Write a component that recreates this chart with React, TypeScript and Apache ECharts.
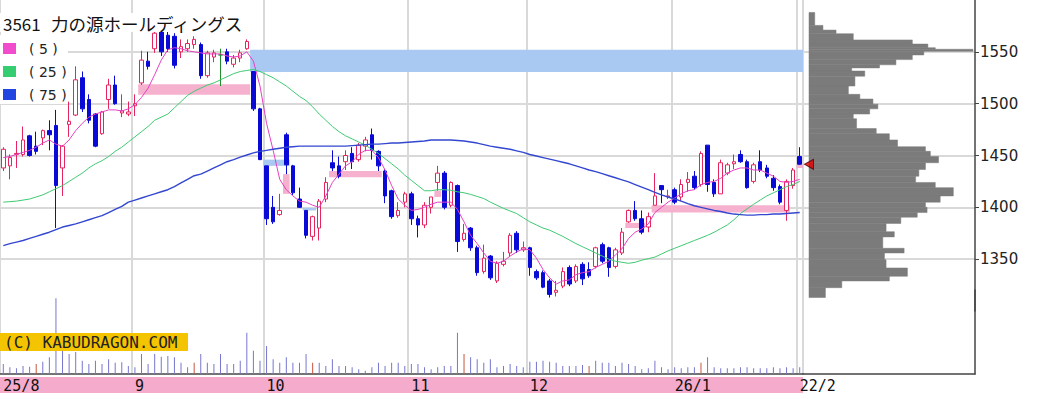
import React, { useEffect, useRef } from "react";
import * as echarts from "echarts";

// ---------- DATA ----------
const tradingDays: [string, number[]][] = [
  ["2025-08", [1, 4, 5, 6, 7, 8, 12, 13, 14, 15, 18, 19, 20, 21, 22, 25, 26, 27, 28, 29]],
  ["2025-09", [1, 2, 3, 4, 5, 8, 9, 10, 11, 12, 16, 17, 18, 19, 22, 24, 25, 26, 29, 30]],
  ["2025-10", [1, 2, 3, 6, 7, 8, 9, 10, 14, 15, 16, 17, 20, 21, 22, 23, 24, 27, 28, 29, 30, 31]],
  ["2025-11", [4, 5, 6, 7, 10, 11, 12, 13, 14, 17, 18, 19, 20, 21, 25, 26, 27, 28]],
  ["2025-12", [1, 2, 3, 4, 5, 8, 9, 10, 11, 12, 15, 16, 17, 18, 19, 22, 23, 24, 25, 26, 29, 30]],
  ["2026-01", [5, 6, 7, 8, 9, 13, 14, 15, 16, 19, 20, 21, 22, 23, 26, 27, 28, 29, 30]],
  ["2026-02", [2]],
];
const dates = tradingDays.flatMap(([m, ds]) => ds.map((d) => `${m}-${String(d).padStart(2, "0")}`));

const xTickIndex = [0, 20, 40, 62, 80, 102, 121];
const xTickText = ["25/8", "9", "10", "11", "12", "26/1", "22/2"];

const PRICE_MIN = 1300;
const PRICE_MAX = 1600;
const PRICE_STEP = 50;
const priceLabels = [1350, 1400, 1450, 1500, 1550];

// [open, close, low, high]
const ohlc: number[][] = [
  [1438, 1456, 1435, 1458], [1440, 1448, 1427, 1451], [1451, 1452, 1438, 1464], [1451, 1465, 1449, 1478],
  [1469, 1450, 1449, 1470], [1459, 1454, 1451, 1473], [1467, 1474, 1460, 1475], [1474, 1470, 1455, 1484],
  [1479, 1421, 1380, 1494], [1438, 1459, 1411, 1460],
  [1480, 1483, 1468, 1502], [1489, 1523, 1488, 1536], [1525, 1495, 1492, 1531], [1504, 1484, 1481, 1509],
  [1490, 1459, 1458, 1491], [1471, 1492, 1470, 1493], [1504, 1518, 1495, 1524], [1518, 1500, 1499, 1527],
  [1491, 1493, 1487, 1509], [1490, 1492, 1488, 1502],
  [1498, 1500, 1488, 1509], [1520, 1542, 1518, 1551], [1541, 1536, 1533, 1550], [1553, 1568, 1549, 1572],
  [1575, 1550, 1546, 1587], [1566, 1553, 1550, 1570], [1565, 1537, 1534, 1568], [1550, 1555, 1544, 1562],
  [1553, 1558, 1550, 1562], [1557, 1562, 1553, 1565],
  [1557, 1527, 1524, 1559], [1527, 1549, 1525, 1551], [1545, 1549, 1540, 1552], [1547, 1547, 1517, 1553],
  [1550, 1541, 1538, 1553], [1538, 1544, 1535, 1547], [1544, 1549, 1540, 1552], [1553, 1560, 1552, 1562],
  [1531, 1495, 1493, 1531], [1495, 1446, 1446, 1496],
  [1440, 1389, 1383, 1440], [1400, 1386, 1384, 1411], [1393, 1397, 1392, 1413], [1470, 1441, 1432, 1472],
  [1440, 1414, 1412, 1441], [1408, 1400, 1399.5, 1419], [1397, 1373, 1370, 1397], [1372, 1391, 1368, 1392],
  [1380, 1406, 1368, 1408], [1408, 1424, 1405, 1429],
  [1443, 1438, 1435, 1455], [1440, 1430, 1428, 1449], [1444, 1450, 1436, 1455], [1452, 1444, 1437, 1458],
  [1446, 1460, 1444, 1462], [1459, 1465, 1454, 1468], [1470, 1455, 1446, 1476], [1454, 1440, 1435, 1455],
  [1435, 1411, 1404, 1437], [1416, 1391, 1389, 1417],
  [1392, 1397, 1390, 1405], [1405, 1413, 1400, 1415], [1413, 1389, 1383, 1415], [1389, 1383, 1371, 1392],
  [1383, 1402, 1380, 1405], [1400, 1410, 1394, 1410], [1424, 1433, 1416, 1440], [1433, 1400, 1398, 1435],
  [1402, 1424, 1400, 1425], [1421, 1367, 1357, 1422],
  [1369, 1375, 1367, 1384], [1380, 1361, 1358, 1381], [1361, 1337, 1334, 1363], [1338, 1351, 1336, 1364],
  [1353, 1332, 1330, 1354], [1329, 1346, 1327, 1348], [1345, 1348, 1343, 1357], [1356, 1373, 1352, 1375],
  [1375, 1359, 1356, 1377], [1359, 1361, 1357, 1367],
  [1361, 1342, 1334, 1362], [1338, 1332, 1330, 1340], [1337, 1323, 1322, 1339], [1329, 1316, 1313, 1331],
  [1318, 1320, 1314, 1329], [1324, 1338, 1322, 1342], [1342, 1326, 1324, 1344], [1329, 1343, 1327, 1345],
  [1345, 1331, 1325, 1347], [1340, 1334, 1332, 1347],
  [1343, 1361, 1341, 1362], [1364, 1348, 1346, 1366], [1361, 1342, 1333, 1362], [1343, 1359, 1341, 1361],
  [1356, 1376, 1354, 1380], [1386, 1397, 1385, 1398], [1397, 1389, 1387, 1406], [1389, 1376, 1374, 1397],
  [1381, 1391, 1376, 1395], [1402, 1411, 1402, 1433],
  [1421, 1417, 1404, 1421], [1410, 1411, 1408, 1417], [1417, 1405, 1403, 1419], [1410, 1422, 1406, 1427],
  [1424, 1427, 1415, 1434], [1430, 1419, 1417, 1435], [1422, 1452, 1420, 1454], [1460, 1422, 1415, 1460],
  [1424, 1413, 1410, 1427], [1413, 1443, 1413, 1446],
  [1433, 1441, 1431, 1443], [1442, 1444, 1437, 1451], [1451, 1444, 1443, 1455], [1444, 1419, 1418, 1446],
  [1425, 1441, 1423, 1443], [1444, 1436, 1434, 1455], [1438, 1430, 1428, 1441], [1428, 1419, 1416, 1431],
  [1420, 1405, 1403, 1422], [1397, 1425, 1387, 1427],
  [1421, 1436, 1418, 1438], [1449, 1441.5, 1441, 1458],
];

const ma5 = [
  1448, 1449, 1451, 1453, 1455, 1458, 1462, 1465, 1461, 1459,
  1465, 1474, 1481, 1487, 1490, 1492, 1494, 1494, 1493, 1495,
  1499, 1506, 1515, 1528, 1542, 1552, 1554, 1553, 1551, 1550,
  1549, 1548, 1548, 1548, 1546, 1545, 1546, 1550, 1541, 1517,
  1481, 1455, 1427, 1417, 1411, 1406, 1405, 1402, 1400, 1411,
  1424, 1432, 1440, 1444, 1451, 1455, 1455, 1448, 1436, 1421,
  1408, 1402, 1397, 1398, 1400, 1403, 1405, 1405, 1405, 1398,
  1386, 1373, 1365, 1356, 1348, 1346, 1348, 1353, 1357, 1360,
  1359, 1351, 1340, 1332, 1326, 1329, 1330, 1335, 1337, 1338,
  1342, 1345, 1348, 1354, 1360, 1370, 1376, 1379, 1384, 1395,
  1400, 1405, 1409, 1413, 1416, 1417, 1422, 1424, 1425, 1428,
  1433, 1436, 1438, 1438, 1436, 1436, 1433, 1430, 1425, 1424,
  1425, 1427,
];

const ma25 = [
  1405, 1405.5, 1406, 1407, 1408, 1410, 1412, 1415, 1418, 1421,
  1425, 1429, 1433, 1438, 1442, 1445, 1449, 1454, 1458, 1463,
  1468, 1473, 1478, 1484, 1487, 1490, 1496, 1502, 1508, 1512,
  1515, 1518, 1520, 1523, 1526, 1529, 1531, 1532, 1533, 1531,
  1528, 1525, 1521, 1517, 1512, 1507, 1503, 1497, 1490, 1484,
  1478, 1473, 1469, 1466, 1463, 1460, 1456, 1452, 1447, 1442,
  1437, 1431, 1426, 1421, 1416, 1416, 1417, 1417, 1416.5, 1415,
  1414, 1412.5, 1410.5, 1408.5, 1405, 1402, 1399, 1396.5, 1394, 1390,
  1386, 1383, 1380, 1378, 1375, 1372, 1368.5, 1365, 1362, 1359,
  1356, 1353, 1350, 1348, 1347, 1346, 1347, 1349, 1350.5, 1352,
  1355, 1358, 1360.5, 1363, 1365.5, 1368, 1370.5, 1373, 1376, 1379.5,
  1383, 1388, 1394, 1398.5, 1403, 1407, 1411, 1414, 1417, 1420,
  1422, 1425,
];

const ma75 = [
  1363, 1365, 1366.5, 1368, 1370, 1372, 1374, 1376, 1378.5, 1381,
  1382.5, 1384, 1386, 1388, 1390, 1392, 1395, 1398, 1401, 1405,
  1407, 1409, 1411, 1413, 1415, 1417, 1420, 1423.5, 1427, 1430.5,
  1432, 1435, 1438, 1441, 1444, 1446, 1448.5, 1450.5, 1452.5, 1454,
  1455, 1456, 1457, 1458, 1458.5, 1459, 1459, 1459, 1459, 1459,
  1459, 1459, 1459, 1459.5, 1460, 1460.5, 1461, 1461, 1461.5, 1462,
  1462, 1462.5, 1463, 1463.5, 1464, 1465, 1465, 1465, 1465, 1464.5,
  1464, 1463, 1462, 1460.5, 1459, 1458, 1457, 1456, 1454.5, 1453,
  1451, 1449.5, 1448, 1446.5, 1445, 1443.5, 1442, 1440, 1438, 1436,
  1434.5, 1432.5, 1430.5, 1428.5, 1426.5, 1424.5, 1422, 1419.5, 1417, 1414.5,
  1412, 1410, 1408, 1406, 1403.5, 1401.5, 1400, 1398.5, 1397, 1396,
  1394.5, 1393.5, 1393, 1392.5, 1392.5, 1393, 1393, 1393.5, 1393.5, 1394,
  1394.5, 1395,
];

const volume = [
  10, 6.7, 5.7, 8, 7.3, 10, 12.3, 16.7, 75.7, 28,
  20, 22, 13.3, 10, 13.3, 10, 14.7, 11.3, 11.7, 8,
  6.7, 20, 10, 20, 17.3, 18, 16.7, 11.3, 6.7, 11.3,
  20, 11.3, 10, 20, 10, 10, 13.3, 41.3, 23.3, 13.3,
  28, 14.7, 11.3, 16.7, 11.3, 11.3, 20, 11.3, 11.3, 8,
  14.7, 8, 8, 6.7, 4.7, 3.3, 6.7, 11.3, 8, 11.3,
  11.3, 8, 10, 10, 6.7, 4.7, 6.7, 8, 8, 41.3,
  20, 16.7, 14.7, 11.3, 14.7, 6.7, 8, 10, 8, 6.7,
  12.3, 12.3, 13.3, 12.3, 11.3, 8, 8, 8, 9, 8,
  13.3, 11.3, 11.3, 8, 11.3, 10, 8, 4.7, 5.7, 13.3,
  6.7, 4.7, 6.7, 5.7, 6.7, 6.7, 11.3, 16.7, 6.7, 5.7,
  5.7, 5.7, 6.7, 6.7, 5.7, 5.7, 5.7, 6.7, 5.7, 6.7,
  5.7, 6.7,
];
const redVolumeIndex = [5, 29, 47, 70, 89, 106];

// window (gap) zones: [startIndex, endIndex, low, high]
const gapUpZones = [
  [21, 37, 1508.5, 1518.7],
  [43, 43, 1413, 1432],
  [50, 57, 1429, 1435],
  [66, 66, 1410, 1416],
  [95, 97, 1380, 1385],
  [99, 119, 1395, 1402],
  [121, 121, 1438, 1441],
];
const gapDownZones = [
  [38, 121, 1530.5, 1552],
  [40, 43, 1440, 1446],
  [46, 47, 1397, 1399.5],
];

// price-by-volume profile: [low, high, relative volume]
const profile = [
  [1575.5, 1588, 3.5], [1571, 1575.5, 8.5], [1567.5, 1571, 16.5], [1561.5, 1567.5, 27],
  [1557.5, 1561.5, 63], [1554, 1557.5, 72.5], [1552.5, 1554, 77], [1550.5, 1552.5, 100],
  [1547, 1550.5, 70], [1542.5, 1547, 63], [1537.5, 1542.5, 53], [1534.5, 1537.5, 43],
  [1531.5, 1534.5, 26], [1526.5, 1531.5, 34], [1517, 1526.5, 28], [1509, 1517, 24],
  [1504.5, 1509, 31], [1499.5, 1504.5, 39], [1495, 1499.5, 42], [1490, 1495, 37],
  [1485.5, 1490, 27], [1476, 1485.5, 29], [1471, 1476, 41], [1465, 1471, 49],
  [1458.5, 1465, 54], [1454, 1458.5, 71], [1449, 1454, 74], [1443, 1449, 79],
  [1436.5, 1443, 71], [1430, 1436.5, 67], [1424, 1430, 65], [1419, 1424, 77],
  [1411, 1419, 88], [1405, 1411, 80], [1400, 1405, 71], [1395, 1400, 72],
  [1390.5, 1395, 66], [1384.5, 1390.5, 56], [1376.5, 1384.5, 47], [1371.5, 1376.5, 52],
  [1360.5, 1371.5, 45], [1356, 1360.5, 58], [1349.5, 1356, 46], [1341.5, 1349.5, 47],
  [1333.5, 1341.5, 60], [1329, 1333.5, 49], [1322.5, 1329, 20], [1313, 1322.5, 10],
];

const maNames = ["( 5 )", "( 25 )", "( 75 )"];
const maColors = ["#e640c2", "#3fca72", "#3347d0"];
const legendColors = ["#f04ccb", "#35cc72", "#2145e0"];

// ---------- CHART ----------
const GRID_COLOR = "#d9d9d9";
const gridLineStyle = { color: GRID_COLOR, width: 2 };
const frameLine = { color: "#444", width: 1.5 };
const isMonthStart = (i: number) => xTickIndex.includes(i);
// one colour per horizontal split line (1300 … 1600); only labelled levels are visible
const priceSplitColors: string[] = [];
for (let v = PRICE_MIN; v <= PRICE_MAX; v += PRICE_STEP) {
  priceSplitColors.push(priceLabels.includes(v) ? GRID_COLOR : "rgba(0,0,0,0)");
}

function zoneRenderer(color: string) {
  return (params: any, api: any) => {
    const s = api.value(0);
    const e = api.value(1);
    const lo = api.value(2);
    const hi = api.value(3);
    const a = api.coord([s, hi]);
    const b = api.coord([e, lo]);
    const w = api.size([1, 0])[0];
    return {
      type: "rect",
      shape: { x: a[0] - w / 2, y: a[1], width: b[0] - a[0] + w, height: b[1] - a[1] },
      style: { fill: color },
    };
  };
}

function buildOption(): any {
  const candleData = ohlc.map((d) =>
    d[0] === d[1]
      ? {
          value: d,
          itemStyle: {
            color: "#1f8f2a",
            color0: "#1f8f2a",
            borderColor: "#1f8f2a",
            borderColor0: "#1f8f2a",
            borderColorDoji: "#1f8f2a",
          },
        }
      : d
  );
  const lastClose = ohlc[ohlc.length - 1][1];

  const graphic: any[] = [
    { type: "rect", z: -1, shape: { x: 0, y: 377, width: 803, height: 16 }, style: { fill: "#f5abcb" } },
    { type: "rect", z: 100, shape: { x: 0, y: 13, width: 250, height: 19 }, style: { fill: "#ffffff" } },
    {
      type: "text", z: 101, x: 3, y: 23,
      style: { text: "3561", font: '17px "Noto Sans CJK JP"', fill: "#111", verticalAlign: "middle" },
    },
    {
      type: "text", z: 101, x: 51, y: 23,
      style: { text: "力の源ホールディングス", font: '17.5px "Noto Sans CJK JP"', fill: "#111", verticalAlign: "middle" },
    },
    { type: "rect", z: 100, shape: { x: 0, y: 35, width: 68, height: 69 }, style: { fill: "#ffffff" } },
    { type: "rect", z: 100, shape: { x: 0, y: 333, width: 188, height: 18 }, style: { fill: "#f5c400" } },
    {
      type: "text", z: 101, x: 4, y: 342,
      style: { text: "(C) KABUDRAGON.COM", font: '16px "DejaVu Sans Mono"', fill: "#222", verticalAlign: "middle" },
    },
  ];
  maNames.forEach((name, k) => {
    const cy = 48 + k * 23;
    graphic.push({
      type: "rect", z: 101, shape: { x: 3, y: cy - 5, width: 13, height: 11 }, style: { fill: legendColors[k] },
    });
    graphic.push({
      type: "text", z: 101, x: 29, y: cy + 1,
      style: { text: name, font: '14px "DejaVu Sans"', fill: "#222", verticalAlign: "middle" },
    });
  });

  const priceAxisBase = {
    type: "value",
    min: PRICE_MIN,
    max: PRICE_MAX,
    interval: PRICE_STEP,
    splitLine: { show: true, lineStyle: { color: priceSplitColors, width: 2 } },
  };

  return {
    animation: false,
    backgroundColor: "#ffffff",
    grid: [
      { left: 0, top: -5, width: 803, height: 316 },
      { left: 803, top: -5, width: 172, height: 316 },
      { left: 0, top: 290, width: 803, height: 84 },
      { left: 803, top: 290, width: 172, height: 84 },
    ],
    xAxis: [
      {
        gridIndex: 0, type: "category", data: dates, boundaryGap: true,
        axisLine: { show: false }, axisTick: { show: false, interval: isMonthStart },
        axisLabel: { show: false },
        splitLine: { show: true, interval: isMonthStart, lineStyle: gridLineStyle },
      },
      { gridIndex: 1, type: "value", min: -3.66, max: 101.22, show: false },
      {
        gridIndex: 2, type: "category", data: dates, boundaryGap: true,
        axisLine: { show: true, onZero: false, lineStyle: frameLine },
        axisTick: { show: false, interval: isMonthStart },
        axisLabel: {
          show: true, interval: isMonthStart, align: "left", margin: 4,
          formatter: (_v: string, i: number) => xTickText[xTickIndex.indexOf(i)] ?? "",
          color: "#111", fontFamily: "DejaVu Sans Mono", fontSize: 15,
        },
        splitLine: { show: true, interval: isMonthStart, lineStyle: gridLineStyle },
      },
      {
        gridIndex: 3, type: "value", min: 0, max: 1,
        axisLine: { show: true, onZero: false, lineStyle: frameLine },
        axisTick: { show: false }, axisLabel: { show: false }, splitLine: { show: false },
      },
    ],
    yAxis: [
      {
        ...priceAxisBase, gridIndex: 0,
        axisLine: { show: false }, axisTick: { show: false }, axisLabel: { show: false },
      },
      {
        ...priceAxisBase, gridIndex: 1, position: "right",
        axisLine: { show: true, onZero: false, lineStyle: frameLine },
        axisTick: { show: true, length: 4, lineStyle: { color: "#444" } },
        axisLabel: {
          show: true, showMinLabel: false, showMaxLabel: false, margin: 5,
          formatter: (v: number) => (priceLabels.includes(v) ? String(v) : ""),
          color: "#222", fontFamily: "DejaVu Sans", fontSize: 15,
        },
      },
      { gridIndex: 2, type: "value", min: 0, max: 84, show: false },
      {
        gridIndex: 3, type: "value", min: 0, max: 1, position: "right",
        axisLine: { show: true, onZero: false, lineStyle: frameLine },
        axisTick: { show: false }, axisLabel: { show: false }, splitLine: { show: false },
      },
    ],
    graphic,
    series: [
      {
        type: "custom", name: "gapDown", xAxisIndex: 0, yAxisIndex: 0, z: 1, silent: true,
        data: gapDownZones, encode: { x: [0, 1], y: [2, 3] }, renderItem: zoneRenderer("#a9c9f3"),
      },
      {
        type: "custom", name: "gapUp", xAxisIndex: 0, yAxisIndex: 0, z: 1, silent: true,
        data: gapUpZones, encode: { x: [0, 1], y: [2, 3] }, renderItem: zoneRenderer("#f5b1cd"),
      },
      {
        type: "candlestick", xAxisIndex: 0, yAxisIndex: 0, z: 3, barWidth: 4,
        data: candleData,
        itemStyle: {
          color: "#ffffff", color0: "#0a0ad6",
          borderColor: "#e6245e", borderColor0: "#0a0ad6", borderColorDoji: "#1f8f2a",
          borderWidth: 1,
        },
      },
      ...[ma5, ma25, ma75].map((d, k) => ({
        type: "line", name: maNames[k], xAxisIndex: 0, yAxisIndex: 0, z: 4, silent: true,
        data: d, symbol: "none", showSymbol: false,
        lineStyle: { color: maColors[k], width: k === 2 ? 1.4 : 1 },
      })),
      {
        type: "custom", name: "profile", xAxisIndex: 1, yAxisIndex: 1, z: 2, silent: true,
        data: profile, encode: { x: 2, y: [0, 1] },
        renderItem: (params: any, api: any) => {
          const lo = api.value(0);
          const hi = api.value(1);
          const v = api.value(2);
          const a = api.coord([0, hi]);
          const b = api.coord([v, lo]);
          return {
            type: "rect",
            shape: { x: a[0], y: a[1], width: b[0] - a[0], height: b[1] - a[1] },
            style: { fill: "#7b7b7b", stroke: "#7b7b7b", lineWidth: 0.5 },
          };
        },
      },
      {
        type: "scatter", xAxisIndex: 1, yAxisIndex: 1, z: 10, clip: false, silent: true,
        data: [[0, lastClose]], symbol: "triangle", symbolRotate: 90, symbolSize: [10, 9],
        itemStyle: { color: "#e40000", borderColor: "#5a0000", borderWidth: 1 },
      },
      {
        type: "bar", xAxisIndex: 2, yAxisIndex: 2, barWidth: 1, silent: true,
        data: volume.map((v, i) => ({
          value: v,
          itemStyle: { color: redVolumeIndex.includes(i) ? "#c8553f" : "#7676cf" },
        })),
      },
    ],
  };
}

export default function App() {
  const ref = useRef<HTMLDivElement>(null);
  useEffect(() => {
    if (!ref.current) return;
    const chart = echarts.init(ref.current, null, { renderer: "svg" });
    chart.setOption(buildOption());
    return () => chart.dispose();
  }, []);
  return (
    <div
      ref={ref}
      style={{ position: "fixed", left: 0, top: 0, width: 1045, height: 399, background: "#ffffff" }}
    />
  );
}
